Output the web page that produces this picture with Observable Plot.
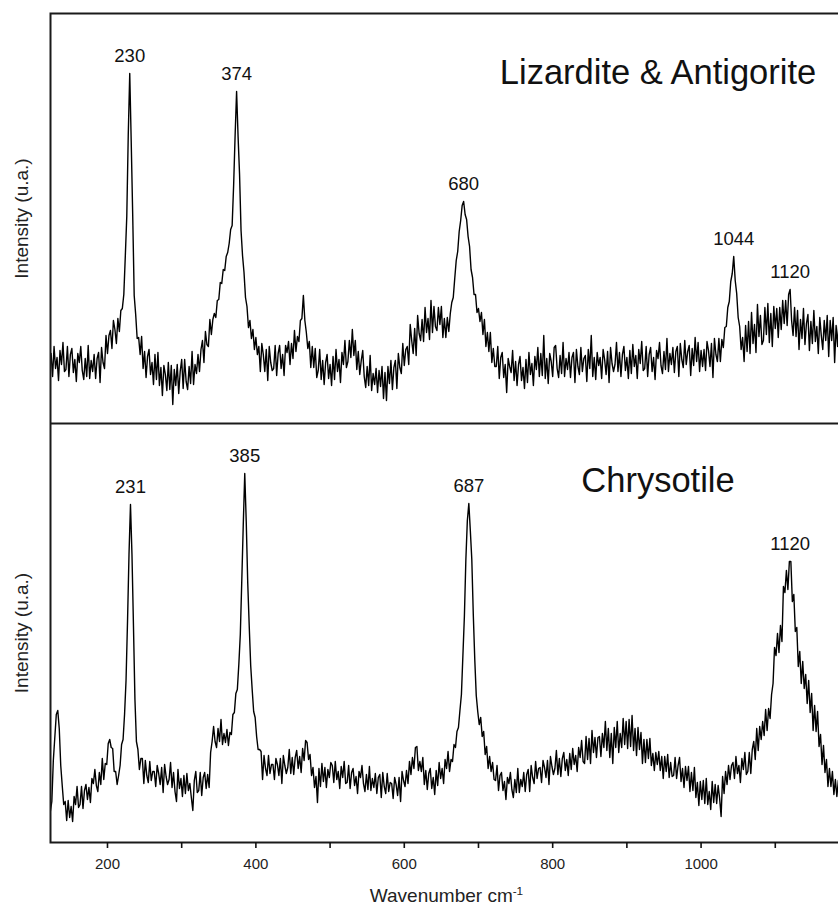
<!DOCTYPE html>
<html>
<head>
<meta charset="utf-8">
<script src="https://cdn.jsdelivr.net/npm/d3@7"></script>
<script src="https://cdn.jsdelivr.net/npm/@observablehq/plot@0.6"></script>
<style>
  body { margin: 0; background: #fff; overflow: hidden; }
  #chart { width: 838px; }
  #chart svg { display: block; }
</style>
</head>
<body>
<div id="chart"></div>
<script>
// Raman spectra of serpentine minerals, sampled every 2 cm-1.
const wavenumberStep = 2;

// Lizardite & Antigorite: first sample at 124 cm-1
const lizarditeStart = 124;
const lizarditeIntensity = [
  70, 47, 77, 55, 66, 43, 73, 59, 81, 52,
  54, 77, 47, 69, 75, 51, 64, 42, 70, 61,
  77, 53, 44, 65, 47, 78, 45, 63, 52, 69,
  45, 65, 71, 41, 76, 61, 55, 88, 70, 88,
  93, 75, 103, 94, 80, 105, 92, 113, 115, 129,
  167, 207, 289, 350, 281, 208, 128, 109, 85, 86,
  69, 87, 55, 72, 46, 67, 74, 49, 61, 39,
  69, 44, 71, 38, 56, 28, 58, 49, 33, 61,
  34, 58, 19, 54, 38, 59, 30, 52, 64, 35,
  64, 42, 34, 57, 40, 72, 39, 59, 50, 69,
  52, 74, 83, 61, 92, 79, 77, 104, 89, 104,
  110, 106, 123, 124, 141, 140, 154, 153, 167, 171,
  180, 194, 198, 238, 288, 332, 287, 249, 193, 168,
  151, 126, 117, 96, 103, 85, 94, 74, 86, 69,
  77, 52, 80, 69, 52, 74, 43, 77, 61, 53,
  55, 78, 48, 70, 78, 55, 69, 48, 78, 71,
  82, 59, 80, 65, 93, 72, 87, 82, 103, 105,
  128, 103, 91, 75, 82, 56, 77, 56, 75, 46,
  53, 74, 44, 63, 39, 61, 69, 45, 59, 38,
  67, 44, 74, 52, 64, 41, 71, 59, 83, 56,
  62, 83, 66, 94, 68, 83, 54, 72, 49, 63,
  73, 47, 36, 57, 38, 68, 33, 50, 39, 55,
  31, 53, 37, 57, 25, 51, 23, 57, 40, 63,
  34, 56, 63, 35, 70, 56, 50, 80, 58, 74,
  77, 59, 99, 83, 70, 95, 68, 108, 90, 83,
  104, 82, 116, 91, 105, 84, 123, 91, 117, 97,
  93, 116, 99, 117, 86, 105, 86, 106, 92, 110,
  121, 126, 145, 163, 172, 192, 203, 218, 222, 209,
  204, 187, 177, 154, 146, 129, 129, 111, 115, 102,
  111, 89, 104, 77, 91, 72, 91, 61, 75, 57,
  57, 77, 45, 66, 71, 46, 59, 31, 65, 57,
  51, 73, 43, 62, 38, 59, 67, 43, 56, 35,
  64, 41, 71, 49, 60, 38, 67, 54, 76, 47,
  70, 48, 88, 45, 65, 40, 70, 62, 47, 76,
  78, 55, 46, 68, 50, 81, 47, 65, 54, 71,
  46, 66, 71, 41, 74, 57, 49, 76, 52, 65,
  68, 42, 74, 55, 88, 47, 66, 44, 71, 58,
  66, 45, 74, 64, 49, 72, 41, 76, 60, 52,
  59, 81, 52, 71, 47, 69, 77, 53, 66, 45,
  73, 50, 79, 57, 68, 45, 74, 60, 82, 53,
  55, 77, 47, 69, 76, 52, 66, 44, 73, 65,
  81, 58, 50, 72, 54, 85, 52, 70, 59, 76,
  51, 72, 77, 47, 80, 64, 56, 83, 59, 72,
  78, 48, 75, 58, 86, 62, 81, 52, 73, 57,
  74, 53, 82, 73, 57, 80, 46, 85, 69, 62,
  85, 62, 84, 76, 96, 97, 116, 122, 142, 150,
  167, 143, 130, 106, 97, 74, 86, 62, 98, 72,
  102, 70, 111, 80, 99, 71, 119, 87, 108, 79,
  83, 116, 89, 120, 81, 110, 77, 117, 95, 115,
  86, 116, 94, 123, 100, 123, 98, 129, 134, 103,
  88, 116, 87, 113, 74, 104, 85, 115, 79, 100,
  109, 73, 102, 80, 113, 82, 97, 70, 106, 88,
  74, 103, 83, 108, 67, 103, 83, 106, 61, 98,
  77, 106, 68, 96
];

// Chrysotile: first sample at 123 cm-1
const chrysotileStart = 123;
const chrysotileIntensity = [
  31, 41, 82, 105, 128, 132, 114, 77, 57, 38,
  41, 22, 42, 25, 36, 21, 46, 38, 56, 35,
  38, 56, 34, 52, 58, 43, 55, 40, 64, 59,
  73, 57, 51, 70, 58, 84, 63, 79, 78, 99,
  103, 95, 94, 71, 71, 58, 67, 77, 98, 103,
  128, 162, 221, 288, 338, 288, 217, 143, 101, 93,
  73, 84, 84, 59, 82, 67, 60, 81, 62, 71,
  71, 56, 77, 69, 58, 75, 50, 78, 66, 58,
  63, 80, 55, 70, 51, 41, 73, 54, 64, 46,
  67, 49, 69, 52, 59, 45, 32, 62, 71, 50,
  52, 70, 47, 65, 70, 54, 68, 55, 90, 101,
  116, 101, 95, 114, 101, 123, 98, 109, 100, 113,
  97, 110, 108, 128, 130, 149, 153, 178, 208, 262,
  318, 369, 321, 260, 217, 177, 153, 131, 125, 106,
  93, 93, 91, 63, 87, 74, 67, 87, 69, 78,
  78, 63, 84, 78, 67, 84, 59, 87, 77, 69,
  75, 93, 69, 85, 68, 85, 92, 74, 86, 70,
  94, 82, 102, 100, 83, 88, 67, 75, 55, 66,
  40, 74, 56, 79, 61, 75, 55, 73, 65, 80,
  77, 60, 81, 63, 71, 54, 76, 65, 81, 59,
  60, 77, 54, 70, 74, 57, 66, 49, 71, 65,
  77, 59, 51, 68, 53, 76, 52, 64, 55, 69,
  49, 65, 68, 45, 70, 56, 49, 69, 51, 60,
  59, 44, 65, 58, 47, 65, 41, 71, 62, 56,
  72, 59, 81, 68, 85, 74, 95, 96, 72, 81,
  71, 85, 58, 72, 53, 69, 74, 54, 65, 48,
  72, 57, 80, 64, 74, 59, 83, 74, 91, 71,
  83, 81, 98, 95, 111, 115, 132, 148, 187, 226,
  283, 322, 339, 312, 283, 228, 183, 147, 131, 118,
  125, 106, 111, 88, 96, 74, 86, 71, 80, 63,
  62, 77, 52, 67, 70, 52, 61, 43, 65, 59,
  70, 53, 45, 63, 50, 74, 50, 63, 56, 70,
  51, 68, 73, 51, 77, 65, 59, 81, 64, 74,
  75, 60, 82, 75, 65, 82, 58, 86, 76, 68,
  74, 92, 68, 84, 66, 84, 90, 72, 83, 67,
  89, 73, 94, 78, 87, 71, 95, 85, 102, 81,
  79, 106, 83, 104, 79, 112, 90, 105, 85, 105,
  106, 86, 109, 95, 121, 92, 114, 85, 109, 79,
  115, 95, 121, 90, 109, 95, 124, 98, 121, 94,
  123, 96, 127, 92, 114, 87, 115, 93, 110, 79,
  103, 80, 103, 84, 104, 77, 89, 72, 90, 78,
  91, 72, 86, 64, 86, 71, 88, 65, 80, 66,
  67, 85, 64, 77, 85, 61, 74, 55, 76, 62,
  76, 51, 70, 52, 75, 45, 60, 37, 61, 43,
  62, 39, 64, 38, 51, 33, 61, 40, 58, 39,
  57, 44, 26, 66, 49, 71, 58, 77, 63, 77,
  80, 64, 86, 69, 77, 60, 84, 73, 90, 68,
  71, 90, 69, 93, 101, 83, 114, 92, 116, 103,
  121, 107, 133, 112, 134, 124, 148, 159, 195, 187,
  209, 190, 217, 201, 256, 250, 272, 253, 281, 281,
  241, 248, 211, 215, 176, 191, 159, 181, 154, 168,
  139, 162, 130, 149, 112, 137, 111, 131, 96, 108,
  78, 97, 70, 83, 56, 74, 56, 71, 48, 63,
  46, 62, 30, 57, 46
];

// Labelled band positions (cm-1)
const lizarditePeaks = [230, 374, 680, 1044, 1120];
const chrysotilePeaks = [231, 385, 687, 1120];

const panelTitles = ["Lizardite & Antigorite", "Chrysotile"];
const xTicks = [200, 300, 400, 500, 600, 700, 800, 900, 1000, 1100];
const xTickLabels = [200, 400, 600, 800, 1000];
const yLabel = "Intensity (u.a.)";
const xLabelBase = "Wavenumber cm";
const xLabelSup = "-1";

const FONT = '"Liberation Sans", Arial, Helvetica, sans-serif';
const WIDTH = 838;
const X_DOMAIN = [123.2, 1190.6];

function spectrum(start, values) {
  return values.map((v, i) => ({wavenumber: start + i * wavenumberStep, intensity: v}));
}

// Each band label sits just above the highest sample at its wavenumber.
function peakTable(series, peaks) {
  return peaks.map(p => {
    const near = series.filter(d => Math.abs(d.wavenumber - p) <= 1.5);
    return {wavenumber: p, intensity: d3.max(near, d => d.intensity), label: String(p)};
  });
}

function panel({series, peaks, title, yMax, height, marginTop, marginBottom, titleDy, withAxis}) {
  const marks = [
    Plot.line(series, {x: "wavenumber", y: "intensity", stroke: "#000", strokeWidth: 1.4, clip: true}),
    Plot.frame({stroke: "#1a1a1a", strokeWidth: 2}),
    Plot.text(peakTable(series, peaks), {
      x: "wavenumber", y: "intensity", text: "label", dy: -12,
      lineAnchor: "bottom", textAnchor: "middle", fontSize: 18.5, fill: "#111"
    }),
    Plot.text([title], {
      text: d => d, frameAnchor: "top", textAnchor: "middle", lineAnchor: "bottom",
      dx: 211.5, dy: titleDy, fontSize: 34.5, fill: "#111"
    }),
    Plot.text([yLabel], {
      text: d => d, frameAnchor: "left", rotate: -90, textAnchor: "middle", lineAnchor: "middle",
      dx: -28.5, fontSize: 19, fill: "#222"
    })
  ];
  if (withAxis) {
    marks.push(
      Plot.axisX({
        ticks: xTicks, tickSize: 6, tickPadding: 10, strokeWidth: 1.6,
        tickFormat: d => xTickLabels.includes(d) ? String(d) : "",
        fontSize: 15, label: null, fill: "#222"
      }),
      Plot.text([xLabelBase + xLabelSup], {
        text: d => d, frameAnchor: "bottom", textAnchor: "middle", lineAnchor: "bottom",
        dy: 59, fontSize: 19, fill: "#222"
      })
    );
  }
  return Plot.plot({
    width: WIDTH, height, marginTop, marginBottom, marginLeft: 50, marginRight: -4,
    x: {domain: X_DOMAIN, axis: null},
    y: {domain: [0, yMax], axis: null},
    style: {fontFamily: FONT, fontSize: "15px", color: "#111", background: "transparent"},
    marks
  });
}

const lizarditeSeries = spectrum(lizarditeStart, lizarditeIntensity);
const chrysotileSeries = spectrum(chrysotileStart, chrysotileIntensity);

const upperPanel = panel({
  series: lizarditeSeries, peaks: lizarditePeaks, title: panelTitles[0],
  yMax: 410, height: 423, marginTop: 13, marginBottom: 0, titleDy: 70.7, withAxis: false
});
const lowerPanel = panel({
  series: chrysotileSeries, peaks: chrysotilePeaks, title: panelTitles[1],
  yMax: 419, height: 482, marginTop: 0, marginBottom: 63, titleDy: 68.3, withAxis: true
});

// Raise the "-1" of the unit to a superscript.
for (const t of lowerPanel.querySelectorAll("text")) {
  if (t.textContent === xLabelBase + xLabelSup) {
    t.textContent = xLabelBase;
    const sup = document.createElementNS("http://www.w3.org/2000/svg", "tspan");
    sup.setAttribute("dy", "-0.55em");
    sup.setAttribute("font-size", "0.62em");
    sup.textContent = xLabelSup;
    t.appendChild(sup);
  }
}

const chart = document.getElementById("chart");
chart.appendChild(upperPanel);
chart.appendChild(lowerPanel);
</script>
</body>
</html>
